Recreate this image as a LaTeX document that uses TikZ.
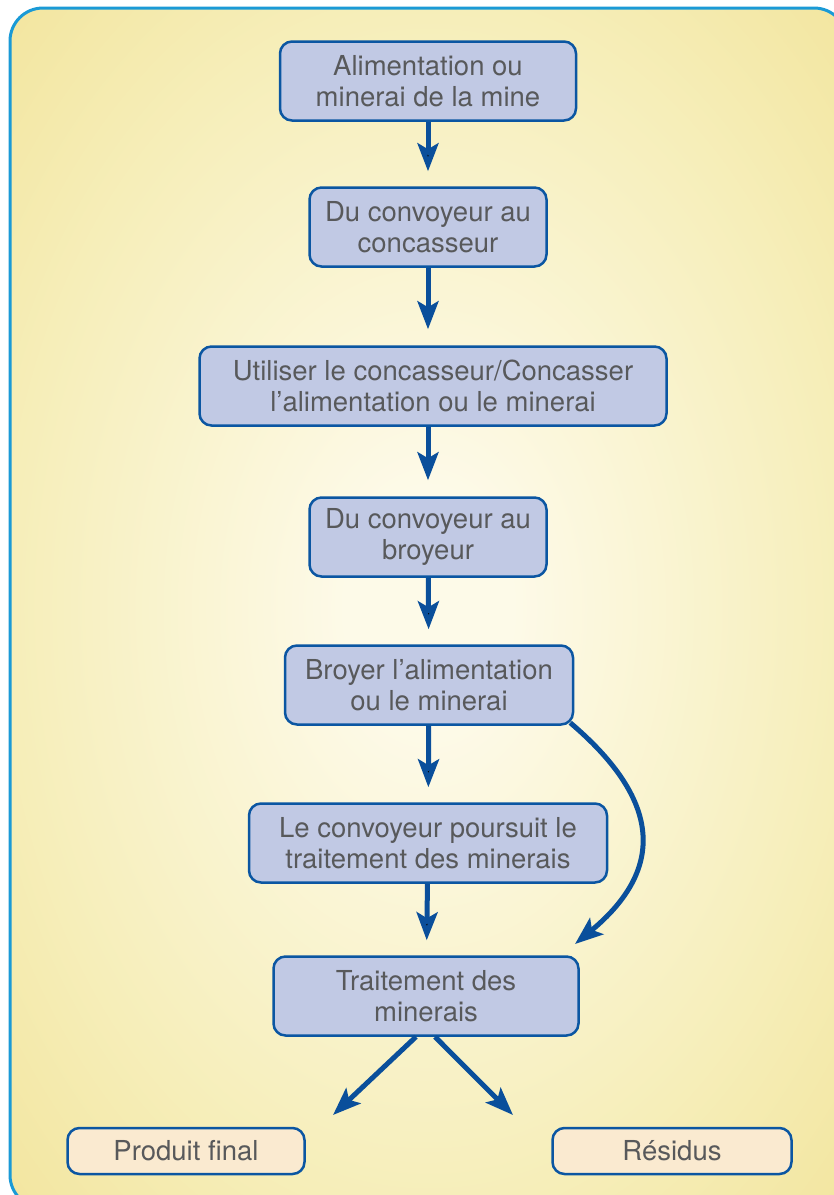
\documentclass[tikz,border=0pt]{standalone}
\usepackage{fontspec}
\setmainfont{TeX Gyre Heros}
\usetikzlibrary{arrows.meta}
\definecolor{boxfill}{HTML}{C1C9E4}
\definecolor{boxline}{HTML}{0B56A2}
\definecolor{arrowblue}{HTML}{0A4F9B}
\definecolor{endfill}{HTML}{FAEAD0}
\definecolor{textgray}{HTML}{58595B}
\definecolor{bgin}{HTML}{FDFAE8}
\definecolor{bgmid}{HTML}{F6EEB9}
\definecolor{bgout}{HTML}{F2E59E}
\definecolor{frameline}{HTML}{1A9AD6}
\pgfdeclareradialshading{bgglow}{\pgfpoint{0bp}{0bp}}{color(0bp)=(bgin); color(5bp)=(bgin); color(25bp)=(bgmid); color(36bp)=(bgout); color(50bp)=(bgout)}

\begin{document}
\begin{tikzpicture}[x=1pt,y=-1pt,
  main node/.style={draw=boxline,line width=2.5pt,fill=boxfill,rounded corners=12pt,align=center,text=textgray,font=\fontsize{27.5}{31}\selectfont,inner sep=0pt,minimum height=79pt},
  end node/.style={main node,fill=endfill,minimum height=46pt},
  flow/.style={draw=arrowblue,line width=5pt,-{Stealth[length=28pt,width=21pt,inset=6pt]}}]

  \fill[white] (0,0) rectangle (834,1195);
  \useasboundingbox (0,0) rectangle (834,1195);
  \clip (0,0) rectangle (834,1195);
  \draw[draw=frameline,line width=3pt,rounded corners=33pt,shading=bgglow] (10,8) rectangle (847,1208);

  \node[main node,minimum width=296pt] (0) at (428,81) {Alimentation ou\\minerai de la mine};
  \node[main node,minimum width=237pt] (1) at (428,227) {Du convoyeur au\\concasseur};
  \node[main node,minimum width=467pt] (2) at (433,386) {Utiliser le concasseur/Concasser\\l’alimentation ou le minerai};
  \node[main node,minimum width=237pt] (3) at (428,537) {Du convoyeur au\\broyeur};
  \node[main node,minimum width=288pt] (4) at (429,685) {Broyer l’alimentation\\ou le minerai};
  \node[main node,minimum width=358pt] (5) at (428,843) {Le convoyeur poursuit le\\traitement des minerais};
  \node[main node,minimum width=305pt] (6) at (426,996) {Traitement des\\minerais};
  \node[end node,minimum width=237pt] (7) at (186,1151) {Produit final};
  \node[end node,minimum width=239pt] (8) at (672,1151) {Résidus};

  \coordinate (r) at (575,944);
  \coordinate (pf) at (333,1115);
  \coordinate (rs) at (513,1115);

  \path[flow,shorten >=15pt]
     (0) edge (1)
     (4) edge (5)
     (5) edge (6)
     (3) edge (4);
  \draw[flow,shorten >=16pt] (1.south) -- (1.south |- 2.north);
  \draw[flow,shorten >=16pt] (2.south -| 3.north) -- (3.north);

  \draw[flow] ([xshift=-4pt,yshift=3pt]4.south east) .. controls (660,799) and (667,868) .. (r);
  \draw[flow] ([xshift=-10pt]6.south) -- (pf);
  \draw[flow] ([xshift=9pt]6.south) -- (rs);
\end{tikzpicture}
\end{document}
